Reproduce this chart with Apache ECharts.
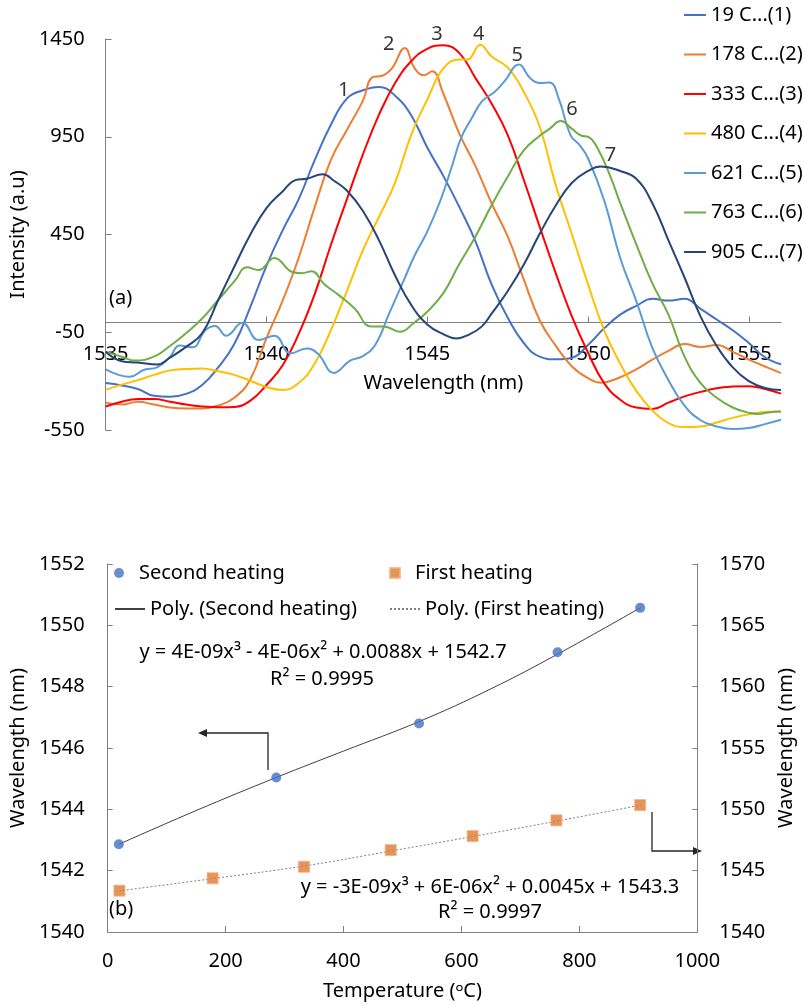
<!DOCTYPE html>
<html>
<head>
<meta charset="utf-8">
<title>FBG spectra and wavelength shift</title>
<script src="https://cdn.jsdelivr.net/npm/echarts@6/dist/echarts.min.js"></script>
<style>
  html, body { margin: 0; padding: 0; background: #fff; }
  #chart { width: 804px; height: 1006px; }
</style>
</head>
<body>
<div id="chart"></div>
<script>
// (a) spectra: [wavelength (nm), intensity (a.u)]
const spec19 = [[1535,-310],[1535.5,-322],[1536,-340],[1536.5,-375],[1537,-380],[1537.5,-365],[1538,-320],[1538.5,-230],[1539,-110],[1539.5,80],[1540,290],[1540.5,470],[1541,630],[1541.5,830],[1542,1010],[1542.5,1145],[1543,1188],[1543.5,1205],[1544,1160],[1544.5,1060],[1545,895],[1545.5,750],[1546,590],[1546.5,415],[1547,195],[1547.5,25],[1548,-105],[1548.5,-175],[1549,-188],[1549.5,-180],[1550,-115],[1550.5,-30],[1551,40],[1551.5,85],[1552,121],[1552.5,112],[1553,121],[1553.5,70],[1554,15],[1554.5,-40],[1555,-105],[1555.5,-178],[1556,-214]];
const spec178 = [[1535,-410],[1535.5,-420],[1536,-405],[1536.5,-420],[1537,-435],[1537.5,-440],[1538,-440],[1538.5,-425],[1539,-385],[1539.5,-290],[1540,-80],[1540.5,110],[1541,330],[1541.5,590],[1542,830],[1542.5,985],[1543,1135],[1543.3,1255],[1543.6,1262],[1543.9,1300],[1544.3,1404],[1544.6,1302],[1544.9,1265],[1545.15,1285],[1545.5,1170],[1546,965],[1546.5,800],[1547,610],[1547.5,440],[1548,220],[1548.5,10],[1549,-120],[1549.5,-225],[1550,-285],[1550.4,-308],[1551,-280],[1551.5,-240],[1552,-190],[1552.5,-145],[1553,-110],[1553.5,-125],[1554,-115],[1554.5,-150],[1555,-190],[1555.5,-225],[1556,-259]];
const spec333 = [[1535,-430],[1535.5,-405],[1536,-392],[1536.5,-392],[1537,-405],[1537.5,-420],[1538,-430],[1538.5,-434],[1539,-432],[1539.5,-400],[1540,-320],[1540.5,-220],[1541,-60],[1541.5,145],[1542,395],[1542.5,630],[1543,860],[1543.5,1063],[1544,1225],[1544.5,1336],[1545,1400],[1545.5,1418],[1546,1378],[1546.5,1250],[1547,1120],[1547.5,960],[1548,730],[1548.5,488],[1549,250],[1549.5,30],[1550,-155],[1550.5,-310],[1551,-395],[1551.5,-435],[1552,-442],[1552.5,-410],[1553,-378],[1553.5,-355],[1554,-336],[1554.5,-328],[1555,-326],[1555.5,-340],[1556,-364]];
const spec480 = [[1535,-345],[1535.5,-318],[1536,-295],[1536.5,-268],[1537,-245],[1537.5,-238],[1538,-235],[1538.5,-250],[1539,-268],[1539.5,-298],[1540,-330],[1540.5,-345],[1541,-310],[1541.5,-210],[1542,-40],[1542.5,160],[1543,370],[1543.5,540],[1544,715],[1544.5,960],[1545,1140],[1545.5,1300],[1546,1345],[1546.25,1345],[1546.65,1421],[1547,1360],[1547.5,1305],[1548,1180],[1548.5,1000],[1549,700],[1549.5,450],[1550,195],[1550.5,-40],[1551,-210],[1551.5,-350],[1552,-450],[1552.5,-515],[1553,-535],[1553.5,-532],[1554,-512],[1554.5,-488],[1555,-470],[1555.5,-458],[1556,-456]];
const spec621 = [[1535,-240],[1535.4,-268],[1535.75,-278],[1536.2,-242],[1536.6,-230],[1537,-175],[1537.3,-118],[1537.7,-127],[1538.1,-40],[1538.4,-18],[1538.75,-68],[1539.25,-2],[1539.75,-90],[1540.25,-68],[1540.75,-158],[1541.25,-133],[1541.6,-160],[1542.1,-258],[1542.6,-195],[1543,-172],[1543.4,-110],[1543.8,40],[1544.3,227],[1544.6,340],[1545,465],[1545.4,620],[1545.75,790],[1546.05,943],[1546.4,1050],[1546.7,1131],[1547.1,1180],[1547.4,1233],[1547.85,1319],[1548.2,1250],[1548.5,1225],[1548.8,1228],[1549.1,1140],[1549.45,960],[1549.75,905],[1550,840],[1550.5,625],[1551,330],[1551.5,110],[1552,-130],[1552.5,-295],[1553,-425],[1553.5,-500],[1554,-532],[1554.5,-545],[1555,-540],[1555.5,-520],[1556,-498]];
const spec763 = [[1535,-150],[1535.5,-175],[1535.9,-195],[1536.5,-175],[1537,-120],[1537.5,-55],[1538,20],[1538.5,115],[1539,210],[1539.4,282],[1539.75,268],[1540.25,330],[1540.8,258],[1541.1,252],[1541.4,262],[1541.8,195],[1542.25,140],[1542.75,70],[1543.25,-20],[1543.65,-20],[1544.15,-48],[1544.6,0],[1545,55],[1545.5,150],[1546,300],[1546.5,440],[1547,600],[1547.5,745],[1548,880],[1548.5,955],[1548.8,990],[1549.15,1030],[1549.5,990],[1549.8,955],[1550,950],[1550.3,890],[1550.7,745],[1551,610],[1551.5,400],[1552,200],[1552.5,40],[1553,-175],[1553.5,-310],[1554,-385],[1554.5,-435],[1555,-462],[1555.3,-468],[1555.6,-460],[1556,-456]];
const spec905 = [[1535,-150],[1535.5,-198],[1536,-205],[1536.6,-215],[1537,-180],[1537.5,-125],[1538,-55],[1538.5,115],[1539,285],[1539.5,450],[1540,585],[1540.5,670],[1540.9,728],[1541.25,735],[1541.75,758],[1542.1,725],[1542.5,675],[1543,570],[1543.5,420],[1544,240],[1544.5,90],[1545,-10],[1545.5,-60],[1545.9,-82],[1546.3,-62],[1546.7,-20],[1547,45],[1547.5,160],[1548,295],[1548.5,455],[1549,600],[1549.5,715],[1550,775],[1550.4,798],[1551,775],[1551.5,735],[1552,610],[1552.5,420],[1553,230],[1553.5,30],[1554,-120],[1554.5,-230],[1555,-300],[1555.5,-335],[1556,-345]];

const specNames = ['19 C...(1)', '178 C...(2)', '333 C...(3)', '480 C...(4)', '621 C...(5)', '763 C...(6)', '905 C...(7)'];
const specColors = ['#4472C4', '#ED7D31', '#FF0000', '#FFC000', '#5B9BD5', '#70AD47', '#264478'];
const specData = [spec19, spec178, spec333, spec480, spec621, spec763, spec905];
// peak numbers, placed at [wavelength, intensity]
const peakLabels = [[1542.4, 1190, '1'], [1543.8, 1425, '2'], [1545.3, 1476, '3'], [1546.6, 1476, '4'], [1547.8, 1369, '5'], [1549.5, 1088, '6'], [1550.7, 853, '7']];
const wlTicks = [1535, 1540, 1545, 1550, 1555];

// (b) peak wavelength vs temperature
const tempSecond = [19, 286, 528, 763, 903];
const wlSecond = [1542.86, 1545.04, 1546.8, 1549.12, 1550.57];
const tempFirst = [20, 178, 333, 480, 619, 761, 903];
const wlFirst = [1543.37, 1544.38, 1545.32, 1546.68, 1547.82, 1549.1, 1550.35];
// trend lines as drawn in the picture
const polySecondT = [19, 150, 286, 400, 528, 650, 763, 905];
const polySecondW = [1542.86, 1543.96, 1545.04, 1545.9, 1546.86, 1547.93, 1549.06, 1550.59];
const polyFirstT = [19, 178, 333, 480, 621, 763, 905];
const polyFirstW = [1543.35, 1544.35, 1545.38, 1546.6, 1547.8, 1549.05, 1550.35];

const zip = (a, b) => a.map((v, i) => [v, b[i]]);

const chart = echarts.init(document.getElementById('chart'));

const axisGray = '#7f7f7f';
const fs = 20;
const plain = v => String(v);
const legendText = { fontSize: fs, lineHeight: 20, color: '#000' };

const spectraSeries = specData.map((d, i) => ({
  name: specNames[i],
  type: 'line',
  xAxisIndex: 0,
  yAxisIndex: 0,
  data: d,
  smooth: 0.45,
  symbol: 'none',
  color: specColors[i],
  lineStyle: { width: 2, color: specColors[i] },
  z: 2,
}));

const option = {
  animation: false,
  backgroundColor: '#fff',
  textStyle: { fontFamily: 'Noto Sans', color: '#000' },
  grid: [
    { left: 103, top: 39, width: 678, height: 391 },
    { left: 96, top: 564, width: 614, height: 368 },
  ],
  legend: [
    {
      data: specNames,
      orient: 'vertical',
      left: 684,
      top: 5,
      padding: 0,
      itemWidth: 22,
      itemHeight: 2,
      icon: 'rect',
      itemGap: 19.5,
      textStyle: legendText,
    },
    { data: ['Second heating'], left: 114, top: 563, padding: 0, itemWidth: 30, itemHeight: 10, textStyle: legendText },
    { data: [{ name: 'First heating', icon: 'path://M0,0L10,0L10,10L0,10Z' }], left: 389, top: 563, padding: 0, itemWidth: 30, itemHeight: 10, symbolKeepAspect: true, textStyle: legendText },
    { data: ['Poly. (Second heating)'], left: 114, top: 599, padding: 0, itemWidth: 30, itemHeight: 10, itemStyle: { opacity: 0 }, textStyle: legendText },
    { data: ['Poly. (First heating)'], left: 389, top: 599, padding: 0, itemWidth: 30, itemHeight: 10, itemStyle: { opacity: 0 }, textStyle: legendText },
  ],
  xAxis: [
    {
      // Excel draws this axis where intensity = 0; move it up from the grid bottom
      type: 'value', gridIndex: 0, min: 1535, max: 1556, offset: -107.5,
      name: 'Wavelength (nm)', nameLocation: 'middle', nameGap: 51,
      nameTextStyle: { fontSize: fs, color: '#000' },
      axisLine: { show: true, onZero: false, lineStyle: { color: axisGray } },
      axisTick: { show: true, inside: true, length: 6, customValues: wlTicks, lineStyle: { color: axisGray } },
      axisLabel: { customValues: wlTicks, margin: 22, fontSize: fs, color: '#000', formatter: plain },
      splitLine: { show: false },
    },
    {
      type: 'value', gridIndex: 1, min: 0, max: 1000, interval: 200,
      name: 'Temperature (ᵒC)', nameLocation: 'middle', nameGap: 49,
      nameTextStyle: { fontSize: fs, color: '#000' },
      axisLine: { show: true, onZero: false, lineStyle: { color: axisGray } },
      axisTick: { show: true, inside: true, length: 6, lineStyle: { color: axisGray } },
      axisLabel: { margin: 19, fontSize: fs, color: '#000', formatter: plain },
      splitLine: { show: false },
    },
  ],
  yAxis: [
    {
      type: 'value', gridIndex: 0, min: -550, max: 1450, interval: 500,
      name: 'Intensity (a.u)', nameLocation: 'middle', nameGap: 75, nameRotate: 90,
      nameTextStyle: { fontSize: fs, color: '#000' },
      axisLine: { show: true, lineStyle: { color: axisGray } },
      axisTick: { show: true, inside: true, length: 6, lineStyle: { color: axisGray } },
      axisLabel: { margin: 21, fontSize: fs, color: '#000', formatter: plain },
      splitLine: { show: false },
    },
    {
      type: 'value', gridIndex: 1, position: 'left', min: 1540, max: 1552, interval: 2,
      name: 'Wavelength (nm)', nameLocation: 'middle', nameGap: 73, nameRotate: 90,
      nameTextStyle: { fontSize: fs, color: '#000' },
      axisLine: { show: true, onZero: false, lineStyle: { color: axisGray } },
      axisTick: { show: true, inside: true, length: 5, lineStyle: { color: axisGray } },
      axisLabel: { margin: 23, fontSize: fs, color: '#000', formatter: plain },
      splitLine: { show: false },
    },
    {
      type: 'value', gridIndex: 1, position: 'right', min: 1540, max: 1570, interval: 5,
      name: 'Wavelength (nm)', nameLocation: 'middle', nameGap: 78, nameRotate: 90,
      nameTextStyle: { fontSize: fs, color: '#000' },
      axisLine: { show: true, onZero: false, lineStyle: { color: axisGray } },
      axisTick: { show: true, inside: true, length: 5, lineStyle: { color: axisGray } },
      axisLabel: { margin: 22, fontSize: fs, color: '#000', formatter: plain },
      splitLine: { show: false },
    },
  ],
  series: [
    ...spectraSeries,
    {
      name: 'peaks',
      type: 'scatter',
      xAxisIndex: 0,
      yAxisIndex: 0,
      data: peakLabels,
      symbolSize: 0.1,
      clip: false,
      itemStyle: { color: 'transparent' },
      silent: true,
      label: {
        show: true, position: 'inside', fontSize: fs, color: '#000',
        formatter: p => p.value[2],
      },
      z: 5,
    },
    {
      name: 'Poly. (Second heating)',
      type: 'line',
      xAxisIndex: 1,
      yAxisIndex: 1,
      data: zip(polySecondT, polySecondW),
      smooth: 0.4,
      symbol: 'none',
      color: '#404040',
      lineStyle: { width: 1, color: '#404040' },
      z: 2,
    },
    {
      name: 'Poly. (First heating)',
      type: 'line',
      xAxisIndex: 1,
      yAxisIndex: 2,
      data: zip(polyFirstT, polyFirstW),
      smooth: 0.4,
      symbol: 'none',
      color: '#7f7f7f',
      lineStyle: { width: 1, color: '#7f7f7f', type: [2, 2] },
      z: 2,
    },
    {
      name: 'Second heating',
      type: 'scatter',
      xAxisIndex: 1,
      yAxisIndex: 1,
      data: zip(tempSecond, wlSecond),
      symbol: 'circle',
      symbolSize: 10,
      color: '#4472C4',
      itemStyle: { color: '#4472C4' },
      z: 4,
    },
    {
      name: 'First heating',
      type: 'scatter',
      xAxisIndex: 1,
      yAxisIndex: 2,
      data: zip(tempFirst, wlFirst),
      symbol: 'rect',
      symbolSize: 11,
      color: '#DD7A32',
      itemStyle: { color: '#DD7A32', borderColor: '#F4B183', borderWidth: 1 },
      z: 4,
    },
  ],
  graphic: [
    { type: 'text', left: 109, top: 288, style: { text: '(a)', fontSize: fs, fontFamily: 'Noto Sans', fill: '#000' } },
    { type: 'text', left: 109, top: 899, style: { text: '(b)', fontSize: fs, fontFamily: 'Noto Sans', fill: '#000' } },
    { type: 'text', x: 323, y: 652, style: { text: 'y = 4E-09x³ - 4E-06x² + 0.0088x + 1542.7', fontSize: fs, fontFamily: 'Noto Sans', fill: '#000', align: 'center', verticalAlign: 'middle' } },
    { type: 'text', x: 322, y: 679, style: { text: 'R² = 0.9995', fontSize: fs, fontFamily: 'Noto Sans', fill: '#000', align: 'center', verticalAlign: 'middle' } },
    { type: 'text', x: 490, y: 887, style: { text: 'y = -3E-09x³ + 6E-06x² + 0.0045x + 1543.3', fontSize: fs, fontFamily: 'Noto Sans', fill: '#000', align: 'center', verticalAlign: 'middle' } },
    { type: 'text', x: 490, y: 912, style: { text: 'R² = 0.9997', fontSize: fs, fontFamily: 'Noto Sans', fill: '#000', align: 'center', verticalAlign: 'middle' } },
    // arrow to the left axis
    { type: 'polyline', shape: { points: [[268, 770], [268, 733], [204, 733]] }, style: { stroke: '#262626', lineWidth: 1.3, fill: null } },
    { type: 'polygon', shape: { points: [[198, 733], [207, 729], [207, 737]] }, style: { fill: '#262626' } },
    // arrow to the right axis
    { type: 'polyline', shape: { points: [[652, 812], [652, 851], [696, 851]] }, style: { stroke: '#262626', lineWidth: 1.3, fill: null } },
    { type: 'polygon', shape: { points: [[702, 851], [693, 847], [693, 855]] }, style: { fill: '#262626' } },
  ],
};

chart.setOption(option);
window.onresize = chart.resize;
</script>
</body>
</html>
